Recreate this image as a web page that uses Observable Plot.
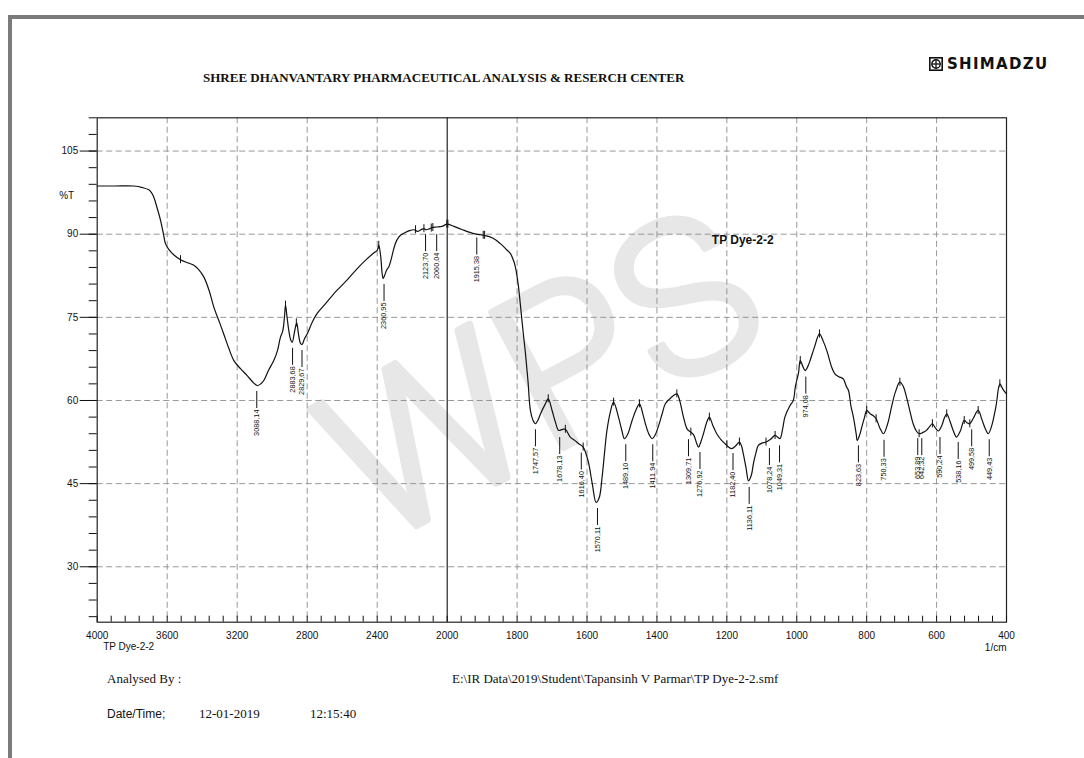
<!DOCTYPE html>
<html>
<head>
<meta charset="utf-8">
<script src="https://cdn.jsdelivr.net/npm/d3@7"></script>
<script src="https://cdn.jsdelivr.net/npm/@observablehq/plot@0.6"></script>
<style>
  html, body { margin: 0; padding: 0; background: #fff; }
  #page { position: relative; width: 1084px; height: 758px; overflow: hidden; background: #fff; }
  .bar-top { position: absolute; left: 8px; top: 15px; width: 1076px; height: 4px; background: #7b7b7b; }
  .bar-left { position: absolute; left: 8px; top: 15px; width: 4px; height: 743px; background: #7b7b7b; }
  #title { position: absolute; top: 70px; left: 203px; font-family: "Liberation Serif", "Times New Roman", serif; font-weight: bold; font-size: 13px; white-space: nowrap; color: #111; }
  #logo { position: absolute; top: 55px; left: 929px; display: flex; align-items: center; white-space: nowrap; }
  #logo span { font-family: "DejaVu Sans", sans-serif; font-weight: bold; font-size: 15px; letter-spacing: 1.3px; margin-left: 4px; color: #111; }
  #chart { position: absolute; left: 0; top: 100px; }
  .foot { position: absolute; white-space: nowrap; color: #111; }
  .serif { font-family: "Liberation Serif", "Times New Roman", serif; font-size: 13px; }
  .sans { font-family: "Liberation Sans", Arial, sans-serif; font-size: 12px; }
</style>
</head>
<body>
<div id="page">
  <div class="bar-top"></div>
  <div class="bar-left"></div>
  <div id="title">SHREE DHANVANTARY PHARMACEUTICAL ANALYSIS &amp; RESERCH CENTER</div>
  <div id="logo">
    <svg width="14" height="14" viewBox="0 0 14 14">
      <rect x="0.8" y="0.8" width="12.4" height="12.4" fill="#fff" stroke="#111" stroke-width="1.6"/>
      <circle cx="7" cy="7" r="4.2" fill="none" stroke="#111" stroke-width="1.4"/>
      <line x1="2.8" y1="7" x2="11.2" y2="7" stroke="#111" stroke-width="1.3"/>
      <line x1="7" y1="2.8" x2="7" y2="11.2" stroke="#111" stroke-width="1.3"/>
    </svg>
    <span>SHIMADZU</span>
  </div>
  <div id="chart"></div>
  <div class="foot serif" style="left:107px; top:671px;">Analysed By :</div>
  <div class="foot serif" style="left:452px; top:671px;">E:\IR Data\2019\Student\Tapansinh V Parmar\TP Dye-2-2.smf</div>
  <div class="foot sans" style="left:107px; top:707px;">Date/Time;</div>
  <div class="foot serif" style="left:199px; top:706px;">12-01-2019</div>
  <div class="foot serif" style="left:310px; top:706px;">12:15:40</div>
</div>
<script>
// ---- spectrum (wavenumber in 1/cm, transmittance in %T) ----
const wavenumber = [
  4000, 3900, 3791, 3740, 3705, 3690, 3677, 3660, 3638, 3620, 3610, 3590, 3560, 3524, 3480, 3448, 3420, 3391,
  3360, 3334, 3300, 3277, 3250, 3219, 3180, 3143, 3110, 3086, 3065, 3048, 3020, 2991, 2970, 2953, 2940, 2930,
  2924, 2915, 2905, 2895, 2886, 2870, 2860, 2850, 2838, 2829, 2815, 2800, 2770, 2743, 2700, 2629, 2570, 2514,
  2460, 2420, 2400, 2391, 2380, 2372, 2366, 2355, 2345, 2334, 2320, 2305, 2290, 2267, 2240, 2210, 2190, 2170,
  2150, 2133, 2120, 2100, 2086, 2060, 2030, 2000, 1981, 1960, 1924, 1895, 1870, 1848, 1830, 1819, 1810, 1805,
  1797, 1791, 1783, 1776, 1769, 1762, 1755, 1748, 1740, 1733, 1720, 1711, 1700, 1690, 1681, 1670, 1662, 1648,
  1635, 1624, 1611, 1600, 1595, 1585, 1574, 1565, 1557, 1550, 1543, 1533, 1524, 1510, 1500, 1493, 1483, 1471,
  1460, 1450, 1440, 1433, 1422, 1414, 1405, 1395, 1385, 1376, 1360, 1343, 1335, 1324, 1313, 1303, 1295, 1286,
  1281, 1274, 1267, 1258, 1250, 1240, 1229, 1215, 1205, 1195, 1186, 1175, 1164, 1158, 1153, 1145, 1138, 1130,
  1124, 1117, 1110, 1100, 1088, 1075, 1062, 1055, 1048, 1040, 1034, 1020, 1010, 1004, 995, 990, 983, 976,
  968, 962, 950, 935, 925, 914, 900, 891, 880, 867, 858, 852, 845, 838, 830, 827, 820, 814,
  806, 800, 790, 780, 773, 762, 752, 740, 729, 718, 705, 695, 686, 676, 667, 658, 650, 640,
  629, 620, 612, 603, 595, 585, 578, 571, 562, 552, 543, 532, 521, 513, 505, 495, 481, 470,
  460, 452, 442, 430, 419, 410, 400
];
const transmittance = [
  98.7, 98.7, 98.7, 98.4, 98.0, 97.5, 96.7, 95.0, 92.5, 89.8, 88.3, 87.2, 86.2, 85.4, 84.8, 84.4, 83.6, 82.3,
  79.8, 76.9, 74.0, 72.0, 69.6, 67.2, 65.7, 64.5, 63.3, 62.7, 63.0, 63.6, 65.5, 67.2, 69.0, 71.4, 72.5, 75.0,
  77.2, 75.0, 72.6, 71.0, 70.5, 72.8, 74.0, 72.0, 70.3, 70.1, 71.2, 72.0, 74.2, 75.7, 77.3, 79.9, 81.8, 83.8,
  85.5, 86.6, 87.1, 88.0, 86.0, 83.0, 82.0, 82.8, 83.6, 84.1, 85.5, 87.4, 88.8, 89.8, 90.3, 90.7, 90.8, 90.5,
  90.8, 91.0, 90.8, 91.0, 91.2, 91.3, 91.4, 91.8, 91.4, 90.9, 90.1, 89.8, 89.3, 88.3, 87.2, 86.5, 85.2, 84.1,
  81.0, 77.5, 72.5, 68.4, 63.6, 58.2, 56.5, 55.8, 56.5, 57.6, 59.3, 60.3, 58.2, 56.0, 54.6, 54.8, 54.8, 53.4,
  52.8, 52.2, 51.6, 49.8, 48.6, 45.0, 41.6, 42.5, 46.1, 50.5, 54.6, 58.0, 59.7, 57.0, 54.5, 53.1, 54.0, 56.4,
  58.3, 59.4, 57.5, 55.8, 53.8, 53.1, 53.8, 55.5, 57.6, 59.4, 60.5, 61.2, 60.0, 57.0, 54.8, 54.3, 53.8, 52.2,
  51.6, 52.6, 54.0, 56.0, 57.0, 55.5, 54.0, 52.8, 52.2, 51.6, 51.3, 51.8, 52.5, 51.8, 50.4, 47.8, 45.5, 46.5,
  48.6, 50.5, 51.9, 52.3, 52.5, 53.0, 53.7, 53.4, 53.1, 55.0, 57.0, 59.0, 60.0, 62.5, 65.0, 67.2, 66.2, 65.4,
  66.2, 67.2, 69.5, 72.0, 70.8, 69.0, 66.0, 64.8, 64.3, 63.9, 62.5, 61.8, 59.0, 57.0, 54.0, 52.8, 53.8, 55.2,
  57.0, 58.2, 57.6, 57.2, 56.7, 55.0, 54.0, 55.8, 58.8, 61.5, 63.3, 62.5, 60.6, 58.0, 55.8, 54.5, 54.0, 54.2,
  54.6, 55.3, 55.8, 55.0, 54.5, 55.5, 56.8, 57.6, 56.3, 54.5, 53.4, 54.5, 56.4, 56.0, 55.8, 56.8, 58.2, 56.5,
  54.8, 54.0, 55.5, 59.0, 63.0, 62.0, 61.2
];

// ---- peak-pick labels (band position, %T at the band, printed label) ----
const peakWavenumber = [3088.14, 2883.68, 2829.67, 2360.95, 2123.70, 2060.04, 1915.38, 1747.57, 1678.13, 1616.40,
  1570.11, 1489.10, 1411.94, 1309.71, 1276.92, 1182.40, 1136.11, 1078.24, 1049.31, 974.08, 823.63, 750.33,
  653.89, 642.32, 590.24, 538.16, 499.58, 449.43];
const peakTransmittance = [62.7, 70.5, 70.1, 82.0, 91.0, 91.0, 90.4, 55.8, 54.4, 51.6,
  41.6, 53.1, 53.1, 54.0, 51.7, 51.5, 45.4, 52.4, 52.9, 65.3, 52.9, 53.9,
  54.2, 54.2, 54.4, 53.5, 55.8, 54.0];
const peakLabel = ["3088,14", "2883,68", "2829,67", "2360,95", "2123,70", "2060,04", "1915,38", "1747,57", "1678,13", "1616,40",
  "1570,11", "1489,10", "1411,94", "1309,71", "1276,92", "1182,40", "1136,11", "1078,24", "1049,31", "974,08", "823,63", "750,33",
  "653,89", "642,32", "590,24", "538,16", "499,58", "449,43"];

// ---- peak markers drawn across the trace ----
const markerWavenumber = [3524, 2924, 2862, 2391, 2181, 2133, 2091, 2082, 2002, 1998, 1897, 1893, 1711, 1662, 1611, 1524, 1450,
  1343, 1303, 1250, 1200, 1164, 1088, 1062, 990, 935, 800, 773, 705, 650, 612, 571, 521, 505, 481, 419];
const markerTransmittance = [85.4, 77.2, 74.0, 88.0, 90.8, 91.0, 91.1, 91.2, 91.8, 91.8, 89.8, 89.8, 60.3, 54.8, 51.6, 59.7, 59.4,
  61.2, 54.3, 57.0, 52.0, 52.5, 52.5, 53.7, 67.2, 72.0, 58.2, 56.7, 63.3, 54.0, 55.8, 57.6, 56.4, 55.8, 58.2, 63.0];

// ---- axes ----
const xTickLabels = [4000, 3600, 3200, 2800, 2400, 2000, 1800, 1600, 1400, 1200, 1000, 800, 600, 400];
const xGrid = [3600, 3200, 2800, 2400, 1800, 1600, 1400, 1200, 1000, 800, 600];
const xMinorTicks = [...d3.range(4000, 2000, -80), ...d3.range(2000, 399, -40)];
const yTickLabels = [30, 45, 60, 75, 90, 105];
const yMinorTicks = d3.range(21, 112, 3);
const sampleName = "TP Dye-2-2";

const spectrum = wavenumber.map((w, i) => ({w, t: transmittance[i]}));
const peaks = peakWavenumber.map((w, i) => ({w, t: peakTransmittance[i], label: peakLabel[i]}));
const markers = markerWavenumber.map((w, i) => ({w, t: markerTransmittance[i]}));

const W = 1084, H = 560;
const mL = 96.7, mR = 78, mT = 17.3, mB = 38.3;
const yDomain = [20, 111];
const unit = (H - mT - mB) / (yDomain[1] - yDomain[0]); // px per %T
const px = p => p / unit;

const grid = {stroke: "#8c8c8c", strokeWidth: 0.9, strokeDasharray: "6,3.5"};

const chart = Plot.plot({
  width: W,
  height: H,
  marginLeft: mL, marginRight: mR, marginTop: mT, marginBottom: mB,
  style: {background: "transparent", fontFamily: "'Liberation Sans', Arial, sans-serif", color: "#111"},
  x: {type: "linear", domain: [4000, 2000, 400], range: [mL, mL + 350, W - mR]},
  y: {domain: yDomain},
  marks: [
    // watermark
    Plot.text(["WPS"], {frameAnchor: "middle", dx: -8, dy: 10, rotate: -28, fontSize: 215, fill: "#e7e7e7",
      stroke: "#e7e7e7", strokeWidth: 7, strokeLinejoin: "round",
      fontFamily: "Roboto, 'Liberation Sans', sans-serif", fontWeight: 300, text: d => d}),
    Plot.ruleX(xGrid, grid),
    Plot.ruleY(yTickLabels, grid),
    Plot.ruleX([2000], {stroke: "#111", strokeWidth: 1.1}),
    Plot.frame({stroke: "#222", strokeWidth: 1.2}),
    // inward ticks on the wavenumber axis
    Plot.ruleX(xMinorTicks, {y1: yDomain[0], y2: yDomain[0] + px(6), stroke: "#111", strokeWidth: 1}),
    Plot.axisX({ticks: xTickLabels, tickSize: 0, tickPadding: 10, fontSize: 10, label: null, tickFormat: d => String(d)}),
    Plot.axisY({ticks: yTickLabels, tickSize: 17, tickPadding: 2, fontSize: 10, label: null, tickFormat: d => String(d)}),
    Plot.axisY({ticks: yMinorTicks, tickSize: 8, label: null, tickFormat: () => ""}),
    Plot.text(["%T"], {frameAnchor: "left", y: 97, dx: -23, textAnchor: "end", fontSize: 10, text: d => d}),
    Plot.text([sampleName], {frameAnchor: "bottom-left", dx: 6, dy: 28, textAnchor: "start", fontSize: 10, text: d => d}),
    Plot.text(["1/cm"], {frameAnchor: "bottom-right", dy: 29, textAnchor: "end", fontSize: 10, text: d => d}),
    // the trace
    Plot.line(spectrum, {x: "w", y: "t", curve: "catmull-rom", stroke: "#111", strokeWidth: 1.2}),
    Plot.ruleX(markers, {x: "w", y1: d => d.t - px(4), y2: d => d.t + px(4), stroke: "#111", strokeWidth: 1}),
    // peak labels
    Plot.ruleX(peaks, {x: "w", y1: d => d.t - px(6), y2: d => d.t - px(23), stroke: "#111", strokeWidth: 1}),
    Plot.text(peaks, {x: "w", y: d => d.t - px(24), text: "label", rotate: -90, textAnchor: "end", fontSize: 7.3, fill: "#111"}),
    Plot.text([sampleName], {x: 1243, y: 88.9, textAnchor: "start", fontSize: 12, fontWeight: "bold", text: d => d})
  ]
});
document.getElementById("chart").appendChild(chart);
</script>
</body>
</html>
